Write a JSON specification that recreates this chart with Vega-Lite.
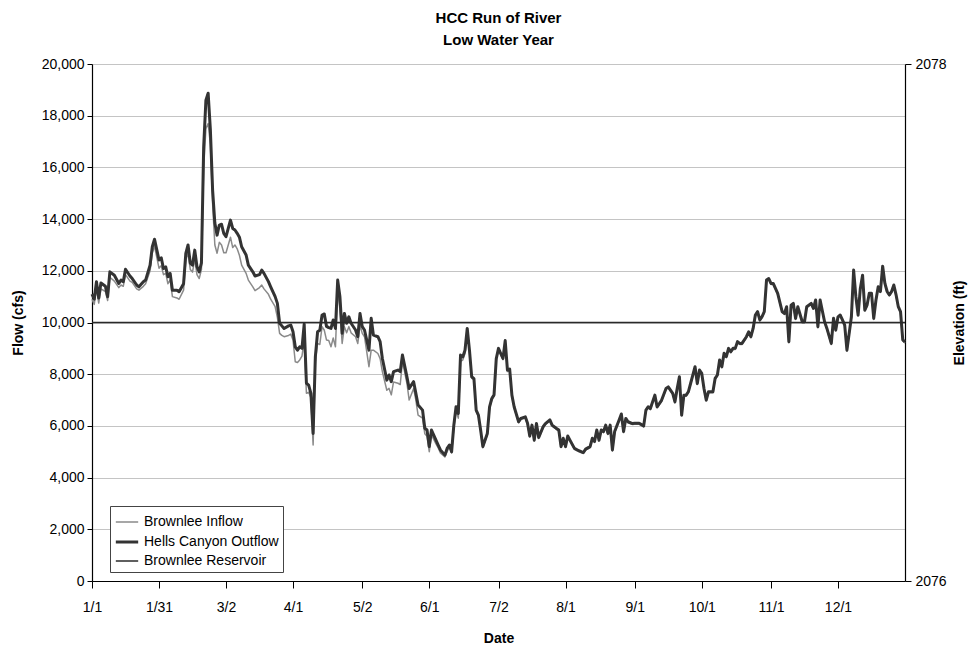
{
  "$schema": "https://vega.github.io/schema/vega-lite/v6.json",
  "width": 813,
  "height": 517,
  "autosize": {"type": "none"},
  "padding": {"left": 92, "top": 64, "right": 66, "bottom": 68},
  "background": "white",
  "title": {
    "text": ["HCC Run of River", "\u2002\u2002\u2002\u2002Low Water Year"],
    "font": "Liberation Sans",
    "fontSize": 15,
    "fontWeight": "bold",
    "color": "black",
    "anchor": "middle",
    "lineHeight": 22,
    "offset": 9
  },
  "datasets": {
    "flows": [
      {"d": 0, "Brownlee Inflow": 10900, "Hells Canyon Outflow": 11100},
      {"d": 1, "Brownlee Inflow": 10700, "Hells Canyon Outflow": 10900},
      {"d": 2, "Brownlee Inflow": 11350, "Hells Canyon Outflow": 11580},
      {"d": 3, "Brownlee Inflow": 10750, "Hells Canyon Outflow": 10950},
      {"d": 4, "Brownlee Inflow": 11300, "Hells Canyon Outflow": 11530},
      {"d": 6, "Brownlee Inflow": 11200, "Hells Canyon Outflow": 11400},
      {"d": 7, "Brownlee Inflow": 10850, "Hells Canyon Outflow": 11000},
      {"d": 8, "Brownlee Inflow": 11750, "Hells Canyon Outflow": 11960},
      {"d": 10, "Brownlee Inflow": 11600, "Hells Canyon Outflow": 11830},
      {"d": 12, "Brownlee Inflow": 11350, "Hells Canyon Outflow": 11510},
      {"d": 13, "Brownlee Inflow": 11450, "Hells Canyon Outflow": 11640},
      {"d": 14, "Brownlee Inflow": 11400, "Hells Canyon Outflow": 11580},
      {"d": 15, "Brownlee Inflow": 11850, "Hells Canyon Outflow": 12060},
      {"d": 17, "Brownlee Inflow": 11600, "Hells Canyon Outflow": 11800},
      {"d": 18, "Brownlee Inflow": 11550, "Hells Canyon Outflow": 11700},
      {"d": 20, "Brownlee Inflow": 11300, "Hells Canyon Outflow": 11450},
      {"d": 21, "Brownlee Inflow": 11250, "Hells Canyon Outflow": 11380},
      {"d": 23, "Brownlee Inflow": 11400, "Hells Canyon Outflow": 11580},
      {"d": 24, "Brownlee Inflow": 11500, "Hells Canyon Outflow": 11640},
      {"d": 26, "Brownlee Inflow": 12000, "Hells Canyon Outflow": 12220},
      {"d": 27, "Brownlee Inflow": 12700, "Hells Canyon Outflow": 12930},
      {"d": 28, "Brownlee Inflow": 12950, "Hells Canyon Outflow": 13220},
      {"d": 30, "Brownlee Inflow": 12100, "Hells Canyon Outflow": 12420},
      {"d": 31, "Brownlee Inflow": 12200, "Hells Canyon Outflow": 12500},
      {"d": 32, "Brownlee Inflow": 11850, "Hells Canyon Outflow": 12090},
      {"d": 33, "Brownlee Inflow": 11900, "Hells Canyon Outflow": 12150},
      {"d": 34, "Brownlee Inflow": 11500, "Hells Canyon Outflow": 11770},
      {"d": 35, "Brownlee Inflow": 11650, "Hells Canyon Outflow": 11900},
      {"d": 36, "Brownlee Inflow": 11000, "Hells Canyon Outflow": 11250},
      {"d": 38, "Brownlee Inflow": 10950, "Hells Canyon Outflow": 11250},
      {"d": 39, "Brownlee Inflow": 10900, "Hells Canyon Outflow": 11190},
      {"d": 41, "Brownlee Inflow": 11250, "Hells Canyon Outflow": 11500},
      {"d": 42, "Brownlee Inflow": 12400, "Hells Canyon Outflow": 12670},
      {"d": 43, "Brownlee Inflow": 12700, "Hells Canyon Outflow": 13000},
      {"d": 44, "Brownlee Inflow": 12050, "Hells Canyon Outflow": 12300},
      {"d": 45, "Brownlee Inflow": 11950, "Hells Canyon Outflow": 12220},
      {"d": 46, "Brownlee Inflow": 12450, "Hells Canyon Outflow": 12800},
      {"d": 47, "Brownlee Inflow": 11850, "Hells Canyon Outflow": 12160},
      {"d": 48, "Brownlee Inflow": 11700, "Hells Canyon Outflow": 11960},
      {"d": 49, "Brownlee Inflow": 12050, "Hells Canyon Outflow": 12310},
      {"d": 50, "Brownlee Inflow": 16000, "Hells Canyon Outflow": 16800},
      {"d": 51, "Brownlee Inflow": 17500, "Hells Canyon Outflow": 18600},
      {"d": 52, "Brownlee Inflow": 17700, "Hells Canyon Outflow": 18870},
      {"d": 53, "Brownlee Inflow": 16900, "Hells Canyon Outflow": 17450},
      {"d": 54, "Brownlee Inflow": 14600, "Hells Canyon Outflow": 15120},
      {"d": 55, "Brownlee Inflow": 13000, "Hells Canyon Outflow": 13850},
      {"d": 56, "Brownlee Inflow": 12680, "Hells Canyon Outflow": 13380},
      {"d": 57, "Brownlee Inflow": 13100, "Hells Canyon Outflow": 13770},
      {"d": 58, "Brownlee Inflow": 13000, "Hells Canyon Outflow": 13800},
      {"d": 59, "Brownlee Inflow": 12700, "Hells Canyon Outflow": 13450},
      {"d": 60, "Brownlee Inflow": 12700, "Hells Canyon Outflow": 13320},
      {"d": 62, "Brownlee Inflow": 13300, "Hells Canyon Outflow": 13960},
      {"d": 63, "Brownlee Inflow": 12900, "Hells Canyon Outflow": 13640},
      {"d": 64, "Brownlee Inflow": 13000, "Hells Canyon Outflow": 13580},
      {"d": 65, "Brownlee Inflow": 12850, "Hells Canyon Outflow": 13450},
      {"d": 66, "Brownlee Inflow": 12600, "Hells Canyon Outflow": 13300},
      {"d": 67, "Brownlee Inflow": 12220, "Hells Canyon Outflow": 12930},
      {"d": 69, "Brownlee Inflow": 11900, "Hells Canyon Outflow": 12610},
      {"d": 70, "Brownlee Inflow": 11640, "Hells Canyon Outflow": 12220},
      {"d": 72, "Brownlee Inflow": 11380, "Hells Canyon Outflow": 11960},
      {"d": 73, "Brownlee Inflow": 11230, "Hells Canyon Outflow": 11800},
      {"d": 75, "Brownlee Inflow": 11350, "Hells Canyon Outflow": 11850},
      {"d": 76, "Brownlee Inflow": 11450, "Hells Canyon Outflow": 12030},
      {"d": 77, "Brownlee Inflow": 11300, "Hells Canyon Outflow": 11900},
      {"d": 79, "Brownlee Inflow": 11090, "Hells Canyon Outflow": 11580},
      {"d": 80, "Brownlee Inflow": 10900, "Hells Canyon Outflow": 11380},
      {"d": 82, "Brownlee Inflow": 10610, "Hells Canyon Outflow": 11000},
      {"d": 83, "Brownlee Inflow": 10200, "Hells Canyon Outflow": 10740},
      {"d": 84, "Brownlee Inflow": 9580, "Hells Canyon Outflow": 9970},
      {"d": 85, "Brownlee Inflow": 9500, "Hells Canyon Outflow": 9870},
      {"d": 86, "Brownlee Inflow": 9450, "Hells Canyon Outflow": 9770},
      {"d": 88, "Brownlee Inflow": 9500, "Hells Canyon Outflow": 9870},
      {"d": 89, "Brownlee Inflow": 9550, "Hells Canyon Outflow": 9900},
      {"d": 90, "Brownlee Inflow": 9320, "Hells Canyon Outflow": 9640},
      {"d": 91, "Brownlee Inflow": 8480, "Hells Canyon Outflow": 9060},
      {"d": 92, "Brownlee Inflow": 8450, "Hells Canyon Outflow": 8930},
      {"d": 93, "Brownlee Inflow": 8550, "Hells Canyon Outflow": 9060},
      {"d": 94, "Brownlee Inflow": 8700, "Hells Canyon Outflow": 9000},
      {"d": 95, "Brownlee Inflow": 9300, "Hells Canyon Outflow": 9940},
      {"d": 96, "Brownlee Inflow": 7260, "Hells Canyon Outflow": 7650},
      {"d": 97, "Brownlee Inflow": 7300, "Hells Canyon Outflow": 7580},
      {"d": 98, "Brownlee Inflow": 7100, "Hells Canyon Outflow": 7260},
      {"d": 99, "Brownlee Inflow": 5260, "Hells Canyon Outflow": 5710},
      {"d": 100, "Brownlee Inflow": 8500, "Hells Canyon Outflow": 8680},
      {"d": 101, "Brownlee Inflow": 9190, "Hells Canyon Outflow": 9640},
      {"d": 102, "Brownlee Inflow": 9150, "Hells Canyon Outflow": 9700},
      {"d": 103, "Brownlee Inflow": 9840, "Hells Canyon Outflow": 10290},
      {"d": 104, "Brownlee Inflow": 9700, "Hells Canyon Outflow": 10330},
      {"d": 105, "Brownlee Inflow": 9320, "Hells Canyon Outflow": 9850},
      {"d": 106, "Brownlee Inflow": 9300, "Hells Canyon Outflow": 9800},
      {"d": 107, "Brownlee Inflow": 9060, "Hells Canyon Outflow": 9770},
      {"d": 108, "Brownlee Inflow": 9400, "Hells Canyon Outflow": 10100},
      {"d": 109, "Brownlee Inflow": 9060, "Hells Canyon Outflow": 9770},
      {"d": 110, "Brownlee Inflow": 11250, "Hells Canyon Outflow": 11640},
      {"d": 111, "Brownlee Inflow": 10500, "Hells Canyon Outflow": 11000},
      {"d": 112, "Brownlee Inflow": 9190, "Hells Canyon Outflow": 9580},
      {"d": 113, "Brownlee Inflow": 9840, "Hells Canyon Outflow": 10350},
      {"d": 114, "Brownlee Inflow": 9600, "Hells Canyon Outflow": 9970},
      {"d": 115, "Brownlee Inflow": 9840, "Hells Canyon Outflow": 10220},
      {"d": 116, "Brownlee Inflow": 9600, "Hells Canyon Outflow": 9970},
      {"d": 118, "Brownlee Inflow": 9450, "Hells Canyon Outflow": 9710},
      {"d": 119, "Brownlee Inflow": 9190, "Hells Canyon Outflow": 9450},
      {"d": 120, "Brownlee Inflow": 9900, "Hells Canyon Outflow": 10350},
      {"d": 121, "Brownlee Inflow": 9580, "Hells Canyon Outflow": 9840},
      {"d": 122, "Brownlee Inflow": 9450, "Hells Canyon Outflow": 9710},
      {"d": 124, "Brownlee Inflow": 8290, "Hells Canyon Outflow": 8930},
      {"d": 125, "Brownlee Inflow": 8930, "Hells Canyon Outflow": 10160},
      {"d": 126, "Brownlee Inflow": 8930, "Hells Canyon Outflow": 9510},
      {"d": 128, "Brownlee Inflow": 8800, "Hells Canyon Outflow": 9450},
      {"d": 129, "Brownlee Inflow": 8600, "Hells Canyon Outflow": 9260},
      {"d": 130, "Brownlee Inflow": 8100, "Hells Canyon Outflow": 8610},
      {"d": 132, "Brownlee Inflow": 7380, "Hells Canyon Outflow": 7770},
      {"d": 133, "Brownlee Inflow": 7450, "Hells Canyon Outflow": 7970},
      {"d": 134, "Brownlee Inflow": 7200, "Hells Canyon Outflow": 7710},
      {"d": 135, "Brownlee Inflow": 7700, "Hells Canyon Outflow": 8100},
      {"d": 137, "Brownlee Inflow": 7650, "Hells Canyon Outflow": 8160},
      {"d": 138, "Brownlee Inflow": 7600, "Hells Canyon Outflow": 8100},
      {"d": 139, "Brownlee Inflow": 8500, "Hells Canyon Outflow": 8740},
      {"d": 141, "Brownlee Inflow": 7650, "Hells Canyon Outflow": 7900},
      {"d": 142, "Brownlee Inflow": 7000, "Hells Canyon Outflow": 7450},
      {"d": 144, "Brownlee Inflow": 7450, "Hells Canyon Outflow": 7710},
      {"d": 145, "Brownlee Inflow": 7000, "Hells Canyon Outflow": 7260},
      {"d": 146, "Brownlee Inflow": 6420, "Hells Canyon Outflow": 6810},
      {"d": 148, "Brownlee Inflow": 6300, "Hells Canyon Outflow": 6610},
      {"d": 149, "Brownlee Inflow": 5700, "Hells Canyon Outflow": 5910},
      {"d": 150, "Brownlee Inflow": 5600, "Hells Canyon Outflow": 5840},
      {"d": 151, "Brownlee Inflow": 5000, "Hells Canyon Outflow": 5200},
      {"d": 152, "Brownlee Inflow": 5650, "Hells Canyon Outflow": 5840},
      {"d": 154, "Brownlee Inflow": 5300, "Hells Canyon Outflow": 5450},
      {"d": 155, "Brownlee Inflow": 5150, "Hells Canyon Outflow": 5260},
      {"d": 156, "Brownlee Inflow": 4950, "Hells Canyon Outflow": 5070},
      {"d": 158, "Brownlee Inflow": 4800, "Hells Canyon Outflow": 4870},
      {"d": 159, "Brownlee Inflow": 5000, "Hells Canyon Outflow": 5130},
      {"d": 160, "Brownlee Inflow": 5200, "Hells Canyon Outflow": 5260},
      {"d": 161, "Brownlee Inflow": 4950, "Hells Canyon Outflow": 5000},
      {"d": 162, "Brownlee Inflow": 5900, "Hells Canyon Outflow": 6030},
      {"d": 163, "Brownlee Inflow": 6600, "Hells Canyon Outflow": 6740},
      {"d": 164, "Brownlee Inflow": 6300, "Hells Canyon Outflow": 6480},
      {"d": 165, "Brownlee Inflow": 8500, "Hells Canyon Outflow": 8740},
      {"d": 166, "Brownlee Inflow": 8550, "Hells Canyon Outflow": 8670},
      {"d": 167, "Brownlee Inflow": 8800, "Hells Canyon Outflow": 8930},
      {"d": 168, "Brownlee Inflow": 9700, "Hells Canyon Outflow": 9770},
      {"d": 169, "Brownlee Inflow": 8880, "Hells Canyon Outflow": 8930},
      {"d": 170, "Brownlee Inflow": 7850, "Hells Canyon Outflow": 7900},
      {"d": 171, "Brownlee Inflow": 7780, "Hells Canyon Outflow": 7830},
      {"d": 172, "Brownlee Inflow": 6560, "Hells Canyon Outflow": 6610},
      {"d": 173, "Brownlee Inflow": 6380, "Hells Canyon Outflow": 6420},
      {"d": 174, "Brownlee Inflow": 5800, "Hells Canyon Outflow": 5840},
      {"d": 175, "Brownlee Inflow": 5150, "Hells Canyon Outflow": 5200},
      {"d": 177, "Brownlee Inflow": 5660, "Hells Canyon Outflow": 5710},
      {"d": 178, "Brownlee Inflow": 6700, "Hells Canyon Outflow": 6740},
      {"d": 179, "Brownlee Inflow": 7000, "Hells Canyon Outflow": 7060},
      {"d": 180, "Brownlee Inflow": 7150, "Hells Canyon Outflow": 7200},
      {"d": 181, "Brownlee Inflow": 8550, "Hells Canyon Outflow": 8600},
      {"d": 182, "Brownlee Inflow": 8950, "Hells Canyon Outflow": 9000},
      {"d": 183, "Brownlee Inflow": 8750, "Hells Canyon Outflow": 8800},
      {"d": 184, "Brownlee Inflow": 8560, "Hells Canyon Outflow": 8610},
      {"d": 185, "Brownlee Inflow": 9250, "Hells Canyon Outflow": 9300},
      {"d": 186, "Brownlee Inflow": 8100, "Hells Canyon Outflow": 8160},
      {"d": 187, "Brownlee Inflow": 8150, "Hells Canyon Outflow": 8200},
      {"d": 188, "Brownlee Inflow": 7150, "Hells Canyon Outflow": 7190},
      {"d": 189, "Brownlee Inflow": 6700, "Hells Canyon Outflow": 6740},
      {"d": 191, "Brownlee Inflow": 6120, "Hells Canyon Outflow": 6160},
      {"d": 192, "Brownlee Inflow": 6250, "Hells Canyon Outflow": 6290},
      {"d": 194, "Brownlee Inflow": 6300, "Hells Canyon Outflow": 6350},
      {"d": 195, "Brownlee Inflow": 6050, "Hells Canyon Outflow": 6100},
      {"d": 196, "Brownlee Inflow": 5570, "Hells Canyon Outflow": 5610},
      {"d": 197, "Brownlee Inflow": 5990, "Hells Canyon Outflow": 6030},
      {"d": 198, "Brownlee Inflow": 5410, "Hells Canyon Outflow": 5450},
      {"d": 199, "Brownlee Inflow": 6050, "Hells Canyon Outflow": 6090},
      {"d": 200, "Brownlee Inflow": 5510, "Hells Canyon Outflow": 5550},
      {"d": 202, "Brownlee Inflow": 5930, "Hells Canyon Outflow": 5970},
      {"d": 203, "Brownlee Inflow": 6050, "Hells Canyon Outflow": 6090},
      {"d": 205, "Brownlee Inflow": 6190, "Hells Canyon Outflow": 6230},
      {"d": 206, "Brownlee Inflow": 5990, "Hells Canyon Outflow": 6030},
      {"d": 208, "Brownlee Inflow": 5860, "Hells Canyon Outflow": 5900},
      {"d": 209, "Brownlee Inflow": 5800, "Hells Canyon Outflow": 5840},
      {"d": 210, "Brownlee Inflow": 5160, "Hells Canyon Outflow": 5200},
      {"d": 211, "Brownlee Inflow": 5480, "Hells Canyon Outflow": 5520},
      {"d": 212, "Brownlee Inflow": 5160, "Hells Canyon Outflow": 5200},
      {"d": 213, "Brownlee Inflow": 5570, "Hells Canyon Outflow": 5610},
      {"d": 214, "Brownlee Inflow": 5410, "Hells Canyon Outflow": 5450},
      {"d": 216, "Brownlee Inflow": 5090, "Hells Canyon Outflow": 5130},
      {"d": 218, "Brownlee Inflow": 5000, "Hells Canyon Outflow": 5040},
      {"d": 220, "Brownlee Inflow": 4930, "Hells Canyon Outflow": 4970},
      {"d": 221, "Brownlee Inflow": 5060, "Hells Canyon Outflow": 5100},
      {"d": 223, "Brownlee Inflow": 5160, "Hells Canyon Outflow": 5200},
      {"d": 224, "Brownlee Inflow": 5480, "Hells Canyon Outflow": 5520},
      {"d": 225, "Brownlee Inflow": 5360, "Hells Canyon Outflow": 5400},
      {"d": 226, "Brownlee Inflow": 5800, "Hells Canyon Outflow": 5840},
      {"d": 227, "Brownlee Inflow": 5410, "Hells Canyon Outflow": 5450},
      {"d": 228, "Brownlee Inflow": 5800, "Hells Canyon Outflow": 5840},
      {"d": 229, "Brownlee Inflow": 5740, "Hells Canyon Outflow": 5780},
      {"d": 230, "Brownlee Inflow": 5990, "Hells Canyon Outflow": 6030},
      {"d": 231, "Brownlee Inflow": 5670, "Hells Canyon Outflow": 5710},
      {"d": 232, "Brownlee Inflow": 5990, "Hells Canyon Outflow": 6030},
      {"d": 233, "Brownlee Inflow": 5030, "Hells Canyon Outflow": 5070},
      {"d": 234, "Brownlee Inflow": 5740, "Hells Canyon Outflow": 5780},
      {"d": 236, "Brownlee Inflow": 6190, "Hells Canyon Outflow": 6230},
      {"d": 237, "Brownlee Inflow": 6420, "Hells Canyon Outflow": 6460},
      {"d": 238, "Brownlee Inflow": 5740, "Hells Canyon Outflow": 5780},
      {"d": 239, "Brownlee Inflow": 6250, "Hells Canyon Outflow": 6290},
      {"d": 240, "Brownlee Inflow": 6120, "Hells Canyon Outflow": 6160},
      {"d": 242, "Brownlee Inflow": 6050, "Hells Canyon Outflow": 6090},
      {"d": 243, "Brownlee Inflow": 6060, "Hells Canyon Outflow": 6100},
      {"d": 245, "Brownlee Inflow": 6060, "Hells Canyon Outflow": 6100},
      {"d": 247, "Brownlee Inflow": 5960, "Hells Canyon Outflow": 6000},
      {"d": 248, "Brownlee Inflow": 6570, "Hells Canyon Outflow": 6610},
      {"d": 249, "Brownlee Inflow": 6700, "Hells Canyon Outflow": 6740},
      {"d": 250, "Brownlee Inflow": 6630, "Hells Canyon Outflow": 6670},
      {"d": 252, "Brownlee Inflow": 7150, "Hells Canyon Outflow": 7190},
      {"d": 253, "Brownlee Inflow": 6700, "Hells Canyon Outflow": 6740},
      {"d": 254, "Brownlee Inflow": 6820, "Hells Canyon Outflow": 6860},
      {"d": 255, "Brownlee Inflow": 6950, "Hells Canyon Outflow": 6990},
      {"d": 257, "Brownlee Inflow": 7410, "Hells Canyon Outflow": 7450},
      {"d": 258, "Brownlee Inflow": 7470, "Hells Canyon Outflow": 7510},
      {"d": 260, "Brownlee Inflow": 7220, "Hells Canyon Outflow": 7260},
      {"d": 261, "Brownlee Inflow": 6890, "Hells Canyon Outflow": 6930},
      {"d": 262, "Brownlee Inflow": 7410, "Hells Canyon Outflow": 7450},
      {"d": 263, "Brownlee Inflow": 7860, "Hells Canyon Outflow": 7900},
      {"d": 264, "Brownlee Inflow": 6380, "Hells Canyon Outflow": 6420},
      {"d": 265, "Brownlee Inflow": 7150, "Hells Canyon Outflow": 7190},
      {"d": 266, "Brownlee Inflow": 7150, "Hells Canyon Outflow": 7190},
      {"d": 267, "Brownlee Inflow": 7280, "Hells Canyon Outflow": 7320},
      {"d": 268, "Brownlee Inflow": 7600, "Hells Canyon Outflow": 7640},
      {"d": 270, "Brownlee Inflow": 8250, "Hells Canyon Outflow": 8290},
      {"d": 271, "Brownlee Inflow": 7600, "Hells Canyon Outflow": 7640},
      {"d": 272, "Brownlee Inflow": 8120, "Hells Canyon Outflow": 8160},
      {"d": 273, "Brownlee Inflow": 7990, "Hells Canyon Outflow": 8030},
      {"d": 274, "Brownlee Inflow": 7410, "Hells Canyon Outflow": 7450},
      {"d": 275, "Brownlee Inflow": 6960, "Hells Canyon Outflow": 7000},
      {"d": 276, "Brownlee Inflow": 7280, "Hells Canyon Outflow": 7320},
      {"d": 278, "Brownlee Inflow": 7280, "Hells Canyon Outflow": 7320},
      {"d": 279, "Brownlee Inflow": 7800, "Hells Canyon Outflow": 7840},
      {"d": 280, "Brownlee Inflow": 7930, "Hells Canyon Outflow": 7970},
      {"d": 281, "Brownlee Inflow": 8510, "Hells Canyon Outflow": 8550},
      {"d": 282, "Brownlee Inflow": 8250, "Hells Canyon Outflow": 8290},
      {"d": 283, "Brownlee Inflow": 8770, "Hells Canyon Outflow": 8810},
      {"d": 284, "Brownlee Inflow": 8640, "Hells Canyon Outflow": 8680},
      {"d": 285, "Brownlee Inflow": 8960, "Hells Canyon Outflow": 9000},
      {"d": 286, "Brownlee Inflow": 8830, "Hells Canyon Outflow": 8870},
      {"d": 287, "Brownlee Inflow": 8960, "Hells Canyon Outflow": 9000},
      {"d": 288, "Brownlee Inflow": 8960, "Hells Canyon Outflow": 9000},
      {"d": 289, "Brownlee Inflow": 9220, "Hells Canyon Outflow": 9260},
      {"d": 290, "Brownlee Inflow": 9150, "Hells Canyon Outflow": 9190},
      {"d": 291, "Brownlee Inflow": 9150, "Hells Canyon Outflow": 9190},
      {"d": 293, "Brownlee Inflow": 9410, "Hells Canyon Outflow": 9450},
      {"d": 294, "Brownlee Inflow": 9600, "Hells Canyon Outflow": 9640},
      {"d": 295, "Brownlee Inflow": 9410, "Hells Canyon Outflow": 9450},
      {"d": 296, "Brownlee Inflow": 9730, "Hells Canyon Outflow": 9770},
      {"d": 297, "Brownlee Inflow": 10250, "Hells Canyon Outflow": 10290},
      {"d": 298, "Brownlee Inflow": 10380, "Hells Canyon Outflow": 10420},
      {"d": 299, "Brownlee Inflow": 10060, "Hells Canyon Outflow": 10100},
      {"d": 300, "Brownlee Inflow": 10190, "Hells Canyon Outflow": 10230},
      {"d": 301, "Brownlee Inflow": 10380, "Hells Canyon Outflow": 10420},
      {"d": 302, "Brownlee Inflow": 11600, "Hells Canyon Outflow": 11640},
      {"d": 303, "Brownlee Inflow": 11660, "Hells Canyon Outflow": 11700},
      {"d": 304, "Brownlee Inflow": 11470, "Hells Canyon Outflow": 11510},
      {"d": 305, "Brownlee Inflow": 11470, "Hells Canyon Outflow": 11510},
      {"d": 307, "Brownlee Inflow": 11090, "Hells Canyon Outflow": 11130},
      {"d": 309, "Brownlee Inflow": 10380, "Hells Canyon Outflow": 10420},
      {"d": 310, "Brownlee Inflow": 10310, "Hells Canyon Outflow": 10350},
      {"d": 311, "Brownlee Inflow": 10570, "Hells Canyon Outflow": 10610},
      {"d": 312, "Brownlee Inflow": 9220, "Hells Canyon Outflow": 9260},
      {"d": 313, "Brownlee Inflow": 10630, "Hells Canyon Outflow": 10670},
      {"d": 314, "Brownlee Inflow": 10700, "Hells Canyon Outflow": 10740},
      {"d": 315, "Brownlee Inflow": 10120, "Hells Canyon Outflow": 10160},
      {"d": 316, "Brownlee Inflow": 10570, "Hells Canyon Outflow": 10610},
      {"d": 318, "Brownlee Inflow": 9990, "Hells Canyon Outflow": 10030},
      {"d": 319, "Brownlee Inflow": 9990, "Hells Canyon Outflow": 10030},
      {"d": 320, "Brownlee Inflow": 10570, "Hells Canyon Outflow": 10610},
      {"d": 322, "Brownlee Inflow": 10700, "Hells Canyon Outflow": 10740},
      {"d": 323, "Brownlee Inflow": 10510, "Hells Canyon Outflow": 10550},
      {"d": 324, "Brownlee Inflow": 10830, "Hells Canyon Outflow": 10870},
      {"d": 325, "Brownlee Inflow": 9800, "Hells Canyon Outflow": 9840},
      {"d": 326, "Brownlee Inflow": 10830, "Hells Canyon Outflow": 10870},
      {"d": 328, "Brownlee Inflow": 9990, "Hells Canyon Outflow": 10030},
      {"d": 329, "Brownlee Inflow": 9740, "Hells Canyon Outflow": 9780},
      {"d": 331, "Brownlee Inflow": 9150, "Hells Canyon Outflow": 9190},
      {"d": 332, "Brownlee Inflow": 10120, "Hells Canyon Outflow": 10160},
      {"d": 333, "Brownlee Inflow": 9670, "Hells Canyon Outflow": 9710},
      {"d": 334, "Brownlee Inflow": 10180, "Hells Canyon Outflow": 10220},
      {"d": 335, "Brownlee Inflow": 10250, "Hells Canyon Outflow": 10290},
      {"d": 336, "Brownlee Inflow": 10060, "Hells Canyon Outflow": 10100},
      {"d": 337, "Brownlee Inflow": 9860, "Hells Canyon Outflow": 9900},
      {"d": 338, "Brownlee Inflow": 8890, "Hells Canyon Outflow": 8930},
      {"d": 340, "Brownlee Inflow": 10180, "Hells Canyon Outflow": 10220},
      {"d": 341, "Brownlee Inflow": 11990, "Hells Canyon Outflow": 12030},
      {"d": 342, "Brownlee Inflow": 10960, "Hells Canyon Outflow": 11000},
      {"d": 343, "Brownlee Inflow": 10250, "Hells Canyon Outflow": 10290},
      {"d": 344, "Brownlee Inflow": 11280, "Hells Canyon Outflow": 11320},
      {"d": 345, "Brownlee Inflow": 11790, "Hells Canyon Outflow": 11830},
      {"d": 346, "Brownlee Inflow": 10440, "Hells Canyon Outflow": 10480},
      {"d": 347, "Brownlee Inflow": 10630, "Hells Canyon Outflow": 10670},
      {"d": 348, "Brownlee Inflow": 11090, "Hells Canyon Outflow": 11130},
      {"d": 349, "Brownlee Inflow": 11090, "Hells Canyon Outflow": 11130},
      {"d": 350, "Brownlee Inflow": 10120, "Hells Canyon Outflow": 10160},
      {"d": 351, "Brownlee Inflow": 10830, "Hells Canyon Outflow": 10870},
      {"d": 352, "Brownlee Inflow": 11340, "Hells Canyon Outflow": 11380},
      {"d": 353, "Brownlee Inflow": 11160, "Hells Canyon Outflow": 11200},
      {"d": 354, "Brownlee Inflow": 12140, "Hells Canyon Outflow": 12180},
      {"d": 355, "Brownlee Inflow": 11470, "Hells Canyon Outflow": 11510},
      {"d": 356, "Brownlee Inflow": 11160, "Hells Canyon Outflow": 11200},
      {"d": 357, "Brownlee Inflow": 11030, "Hells Canyon Outflow": 11070},
      {"d": 358, "Brownlee Inflow": 11160, "Hells Canyon Outflow": 11200},
      {"d": 359, "Brownlee Inflow": 11410, "Hells Canyon Outflow": 11450},
      {"d": 360, "Brownlee Inflow": 11030, "Hells Canyon Outflow": 11070},
      {"d": 361, "Brownlee Inflow": 10570, "Hells Canyon Outflow": 10610},
      {"d": 362, "Brownlee Inflow": 10380, "Hells Canyon Outflow": 10420},
      {"d": 363, "Brownlee Inflow": 9290, "Hells Canyon Outflow": 9330},
      {"d": 364, "Brownlee Inflow": 9200, "Hells Canyon Outflow": 9250}
    ],
    "reservoir": [
      {"d": 0, "series": "Brownlee Reservoir", "elev": 2077},
      {"d": 364, "series": "Brownlee Reservoir", "elev": 2077}
    ]
  },
  "layer": [
    {
      "data": {"name": "flows"},
      "transform": [{"fold": ["Brownlee Inflow", "Hells Canyon Outflow"], "as": ["series", "flow"]}],
      "mark": {"type": "line", "strokeJoin": "round"},
      "encoding": {
        "x": {
          "field": "d", "type": "quantitative",
          "scale": {"domain": [0, 364], "nice": false, "zero": false},
          "axis": {
            "title": "Date",
            "values": [0, 30, 60, 90, 121, 151, 182, 212, 243, 273, 304, 334],
            "labelExpr": "['1/1','1/31','3/2','4/1','5/2','6/1','7/2','8/1','9/1','10/1','11/1','12/1'][indexof([0,30,60,90,121,151,182,212,243,273,304,334], datum.value)]",
            "grid": false,
            "tickSize": 7,
            "labelPadding": 12,
            "titlePadding": 17,
            "labelFlush": false,
            "labelOverlap": false
          }
        },
        "y": {
          "field": "flow", "type": "quantitative",
          "scale": {"domain": [0, 20000], "nice": false},
          "axis": {
            "title": "Flow (cfs)",
            "values": [0, 2000, 4000, 6000, 8000, 10000, 12000, 14000, 16000, 18000, 20000],
            "format": ",d",
            "grid": true,
            "gridColor": "#c4c4c4",
            "gridWidth": 1.2,
            "tickSize": 5,
            "labelPadding": 3,
            "titlePadding": 16,
            "labelFlush": false,
            "labelOverlap": false
          }
        },
        "color": {
          "field": "series", "type": "nominal",
          "scale": {"domain": ["Brownlee Inflow", "Hells Canyon Outflow", "Brownlee Reservoir"], "range": ["#8a8a8a", "#333333", "#2a2a2a"]},
          "legend": {
            "title": null,
            "encode": {
              "symbols": {
                "update": {
                  "strokeWidth": {"signal": "datum.value === 'Hells Canyon Outflow' ? 3 : 1.5"}
                }
              }
            }
          }
        },
        "strokeWidth": {
          "field": "series", "type": "nominal",
          "scale": {"type": "ordinal", "domain": ["Brownlee Inflow", "Hells Canyon Outflow", "Brownlee Reservoir"], "range": [1.5, 3, 1.5]},
          "legend": null
        }
      }
    },
    {
      "data": {"name": "reservoir"},
      "mark": {"type": "line"},
      "encoding": {
        "x": {"field": "d", "type": "quantitative"},
        "y": {
          "field": "elev", "type": "quantitative",
          "scale": {"domain": [2076, 2078], "nice": false, "zero": false},
          "axis": {
            "orient": "right",
            "title": "Elevation (ft)",
            "titleAngle": 270,
            "values": [2076, 2077, 2078],
            "format": "d",
            "grid": false,
            "tickSize": 6,
            "labelPadding": 4,
            "titlePadding": 20,
            "labelFlush": false
          }
        },
        "color": {"field": "series", "type": "nominal"},
        "strokeWidth": {
          "field": "series", "type": "nominal",
          "scale": {"type": "ordinal", "domain": ["Brownlee Inflow", "Hells Canyon Outflow", "Brownlee Reservoir"], "range": [1.5, 3, 1.5]},
          "legend": null
        }
      }
    }
  ],
  "resolve": {"scale": {"y": "independent"}},
  "config": {
    "font": "Liberation Sans",
    "view": {"stroke": null},
    "axis": {
      "labelFont": "Liberation Sans",
      "labelFontSize": 14,
      "labelColor": "black",
      "titleFont": "Liberation Sans",
      "titleFontSize": 14,
      "titleFontWeight": "bold",
      "titleColor": "black",
      "domainColor": "black",
      "domainWidth": 1.2,
      "tickColor": "black",
      "tickWidth": 1
    },
    "legend": {
      "orient": "none",
      "legendX": 18,
      "legendY": 442,
      "direction": "vertical",
      "symbolType": "stroke",
      "symbolSize": 500,
      "labelFont": "Liberation Sans",
      "labelFontSize": 14,
      "labelColor": "black",
      "labelOffset": 4,
      "rowPadding": 0,
      "padding": 4,
      "strokeColor": "#444444",
      "fillColor": "white"
    }
  }
}
